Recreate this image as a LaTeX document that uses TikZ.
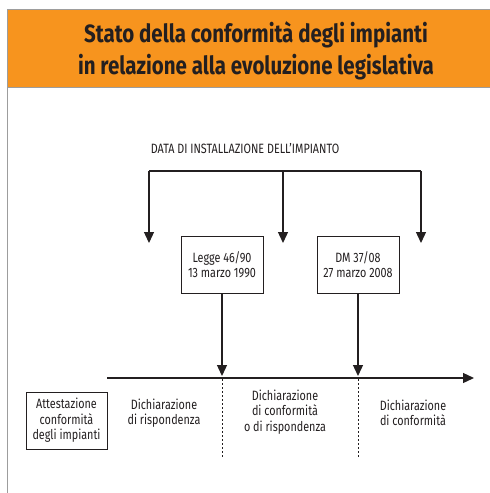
\documentclass[tikz,border=0pt]{standalone}
\usepackage{fontspec}
\usetikzlibrary{arrows.meta}
\newfontfamily\titlefont[FakeStretch=0.82,UprightFont=*-Bold]{Fira Sans}
\newfontfamily\bodyfont[FakeStretch=0.8]{Fira Sans}
\definecolor{band}{HTML}{F7941E}
\definecolor{ink}{HTML}{231F20}
\definecolor{frame}{HTML}{9D9D9D}
\begin{document}
\begin{tikzpicture}[x=1pt,y=-1pt,
  conn/.style={ink,line width=1.3pt},
  arr/.style={conn,-{Triangle[width=10pt,length=11pt]}},
  lbl/.style={text=ink,font=\bodyfont\fontsize{13.5}{15.5}\selectfont,align=center,inner sep=0pt},
  lawbox/.style={lbl,draw=ink,line width=1pt,minimum width=82pt,minimum height=57pt}]
\useasboundingbox (0,0) rectangle (490,493);
% frame and band
\fill[band] (7,9) rectangle (490,87);
\draw[frame,line width=1pt] (490,9) -- (7,9) -- (7,493);
\draw[frame,line width=1pt] (7,87) -- (490,87);
\node[text=ink,font=\titlefont\fontsize{25}{32}\selectfont,align=center,inner sep=0pt] (title) at (256,51) {Stato della conformità degli impianti\\in relazione alla evoluzione legislativa};
% top label and bracket
\node[lbl] (data) at (245,148) {DATA DI INSTALLAZIONE DELL’IMPIANTO};
\coordinate (b1) at (149,171);
\coordinate (b2) at (283,171);
\coordinate (b3) at (421,171);
\coordinate (a1) at (149,243);
\coordinate (a2) at (283,243);
\coordinate (a3) at (421,243);
\draw[conn] (b1) -- (b3);
\draw[arr] (b1) -- (a1);
\draw[arr] (b2) -- (a2);
\draw[arr] (b3) -- (a3);
% law boxes
\node[lawbox] (legge) at (222,264.5) {Legge 46/90\\13 marzo 1990};
\node[lawbox] (dm) at (358,264.5) {DM 37/08\\27 marzo 2008};
% timeline
\coordinate (t0) at (107,378);
\coordinate (t1) at (474,378);
\draw[conn,-{Triangle[width=10pt,length=11pt]}] (t0) -- (t1);
\coordinate (l1) at (222,376);
\coordinate (l2) at (358,376);
\draw[arr] (legge.south) -- (l1);
\draw[arr] (dm.south) -- (l2);
\coordinate (d1a) at (222,379);
\coordinate (d1b) at (222,458);
\coordinate (d2a) at (358,379);
\coordinate (d2b) at (358,458);
\draw[ink,line width=1pt,dash pattern=on 2pt off 2pt] (d1a) -- (d1b);
\draw[ink,line width=1pt,dash pattern=on 2pt off 2pt] (d2a) -- (d2b);
% bottom labels
\node[lawbox,minimum width=81pt] (att) at (66.5,420.5) {Attestazione\\conformità\\degli impianti};
\node[lbl] (rsp) at (164,413) {Dichiarazione\\di rispondenza};
\node[lbl] (mid) at (285,412) {Dichiarazione\\di conformità\\o di rispondenza};
\node[lbl] (conf) at (413,413) {Dichiarazione\\di conformità};
\end{tikzpicture}
\end{document}
